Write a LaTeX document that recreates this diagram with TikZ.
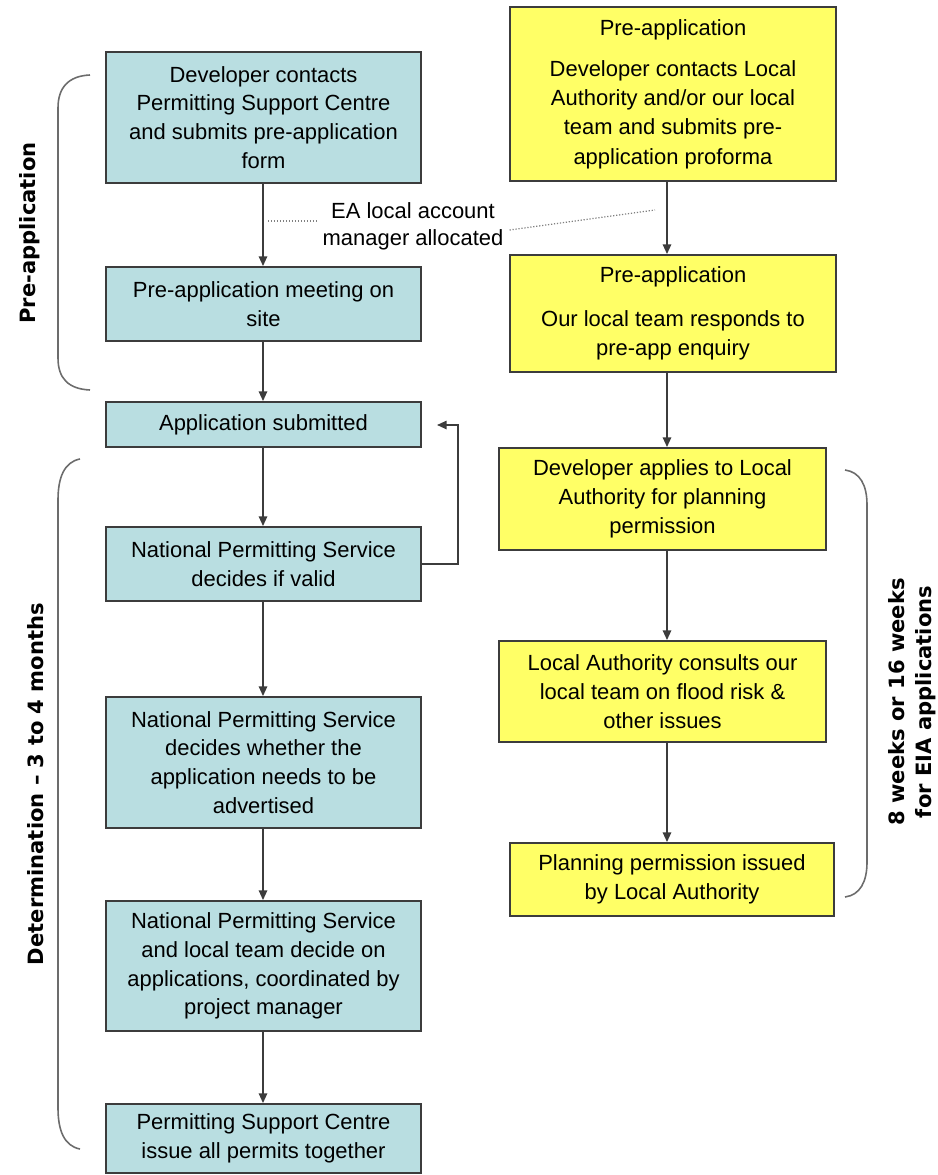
\documentclass[tikz,border=0pt]{standalone}
\usepackage{fontspec}
\setmainfont{Liberation Sans}
\newfontfamily\sidefont{DejaVu Sans}
\usetikzlibrary{arrows.meta}
\definecolor{npsblue}{RGB}{185,222,225}
\definecolor{layellow}{RGB}{255,255,102}
\definecolor{edge}{RGB}{60,60,60}

\begin{document}
\begin{tikzpicture}[x=0.02cm,y=-0.02cm,
  npsbox/.style={draw=edge,fill=npsblue,line width=1.1pt,align=center,inner sep=0pt,
    minimum width=6.3cm,font=\fontsize{12.5}{16.4}\selectfont},
  labox/.style={draw=edge,fill=layellow,line width=1.1pt,align=center,inner sep=0pt,
    font=\fontsize{12.5}{16.6}\selectfont},
  arr/.style={draw=edge,line width=0.9pt,-{Triangle[length=5.5pt,width=4.8pt]}},
  brace/.style={draw=gray!85!black,line width=0.9pt},
  dots/.style={draw=gray,densely dotted,line width=0.7pt},
  side/.style={font=\sidefont\bfseries\fontsize{12}{15.3}\selectfont,rotate=90,align=center}]

\useasboundingbox (0,0) rectangle (937,1175);

% left column
\node[npsbox,minimum height=2.62cm] (contact) at (263.5,117.5) {Developer contacts\\Permitting Support Centre\\and submits pre-application\\form};
\node[npsbox,minimum height=1.48cm] (meeting) at (263.5,304) {Pre-application meeting on\\site};
\node[npsbox,minimum height=0.9cm] (submitted) at (263.5,424.5) {Application submitted};
\node[npsbox,minimum height=1.48cm] (valid) at (263.5,564) {National Permitting Service\\decides if valid};
\node[npsbox,minimum height=2.62cm] (advert) at (263.5,762.5) {National Permitting Service\\decides whether the\\application needs to be\\advertised};
\node[npsbox,minimum height=2.6cm] (decide) at (263.5,966) {National Permitting Service\\and local team decide on\\applications, coordinated by\\project manager};
\node[npsbox,minimum height=1.38cm] (permits) at (263.5,1138.5) {Permitting Support Centre\\issue all permits together};

% right column
\node[labox,minimum width=6.52cm,minimum height=3.48cm] (enquiry) at (673,94) {Pre-application\\[7pt]Developer contacts Local\\Authority and/or our local\\team and submits pre-\\application proforma};
\node[labox,minimum width=6.52cm,minimum height=2.34cm] (respond) at (673,313.5) {Pre-application\\[8.5pt]Our local team responds to\\pre-app enquiry};
\node[labox,minimum width=6.54cm,minimum height=2.04cm] (planning) at (662.5,499) {Developer applies to Local\\Authority for planning\\permission};
\node[labox,minimum width=6.54cm,minimum height=2.02cm] (consult) at (662.5,691.5) {Local Authority consults our\\local team on flood risk \&\\other issues};
\node[labox,minimum width=6.48cm,minimum height=1.46cm] (granted) at (672,879.5) {Planning permission issued\\by Local Authority};

\coordinate (lcol) at (263,0);
\coordinate (rcol) at (667,0);

\draw[arr] (contact.south -| lcol) -- (meeting.north -| lcol);
\draw[arr] (meeting.south -| lcol) -- (submitted.north -| lcol);
\draw[arr] (submitted.south -| lcol) -- (valid.north -| lcol);
\draw[arr] (valid.south -| lcol) -- (advert.north -| lcol);
\draw[arr] (advert.south -| lcol) -- (decide.north -| lcol);
\draw[arr] (decide.south -| lcol) -- (permits.north -| lcol);

\draw[arr] (enquiry.south -| rcol) -- (respond.north -| rcol);
\draw[arr] (respond.south -| rcol) -- (planning.north -| rcol);
\draw[arr] (planning.south -| rcol) -- (consult.north -| rcol);
\draw[arr] (consult.south -| rcol) -- (granted.north -| rcol);

% back to submission
\coordinate (resubmit) at (437,425);
\draw[arr] (valid.east) -- ++(36,0) |- (resubmit);

% account manager note
\node[align=center,font=\fontsize{12.5}{15.3}\selectfont] (ea) at (413,226.5) {EA local account\\manager allocated};
\coordinate (eaL) at (268,221);
\coordinate (eaR) at (655,210);
\draw[dots] (eaL) -- (eaL -| ea.west);
\draw[dots] ([yshift=-2pt]ea.east) -- (eaR);

% brackets
\draw[brace] (90,75) .. controls (68,76) and (58,88) .. (58,108) -- (58,358) .. controls (58,378) and (68,389) .. (90,390);
\draw[brace] (80,459) .. controls (64,462) and (58,478) .. (58,500) -- (58,1108) .. controls (58,1130) and (64,1146) .. (80,1149);
\draw[brace] (845,470) .. controls (860,472) and (867,485) .. (867,505) -- (867,862) .. controls (867,882) and (860,895) .. (845,897);

\node[side] (prelabel) at (30,233) {Pre-application};
\node[side] (detlabel) at (36,784) {Determination – 3 to 4 months};
\node[side] (weeks) at (912,702) {8 weeks or 16 weeks\\for EIA applications};
\end{tikzpicture}
\end{document}
